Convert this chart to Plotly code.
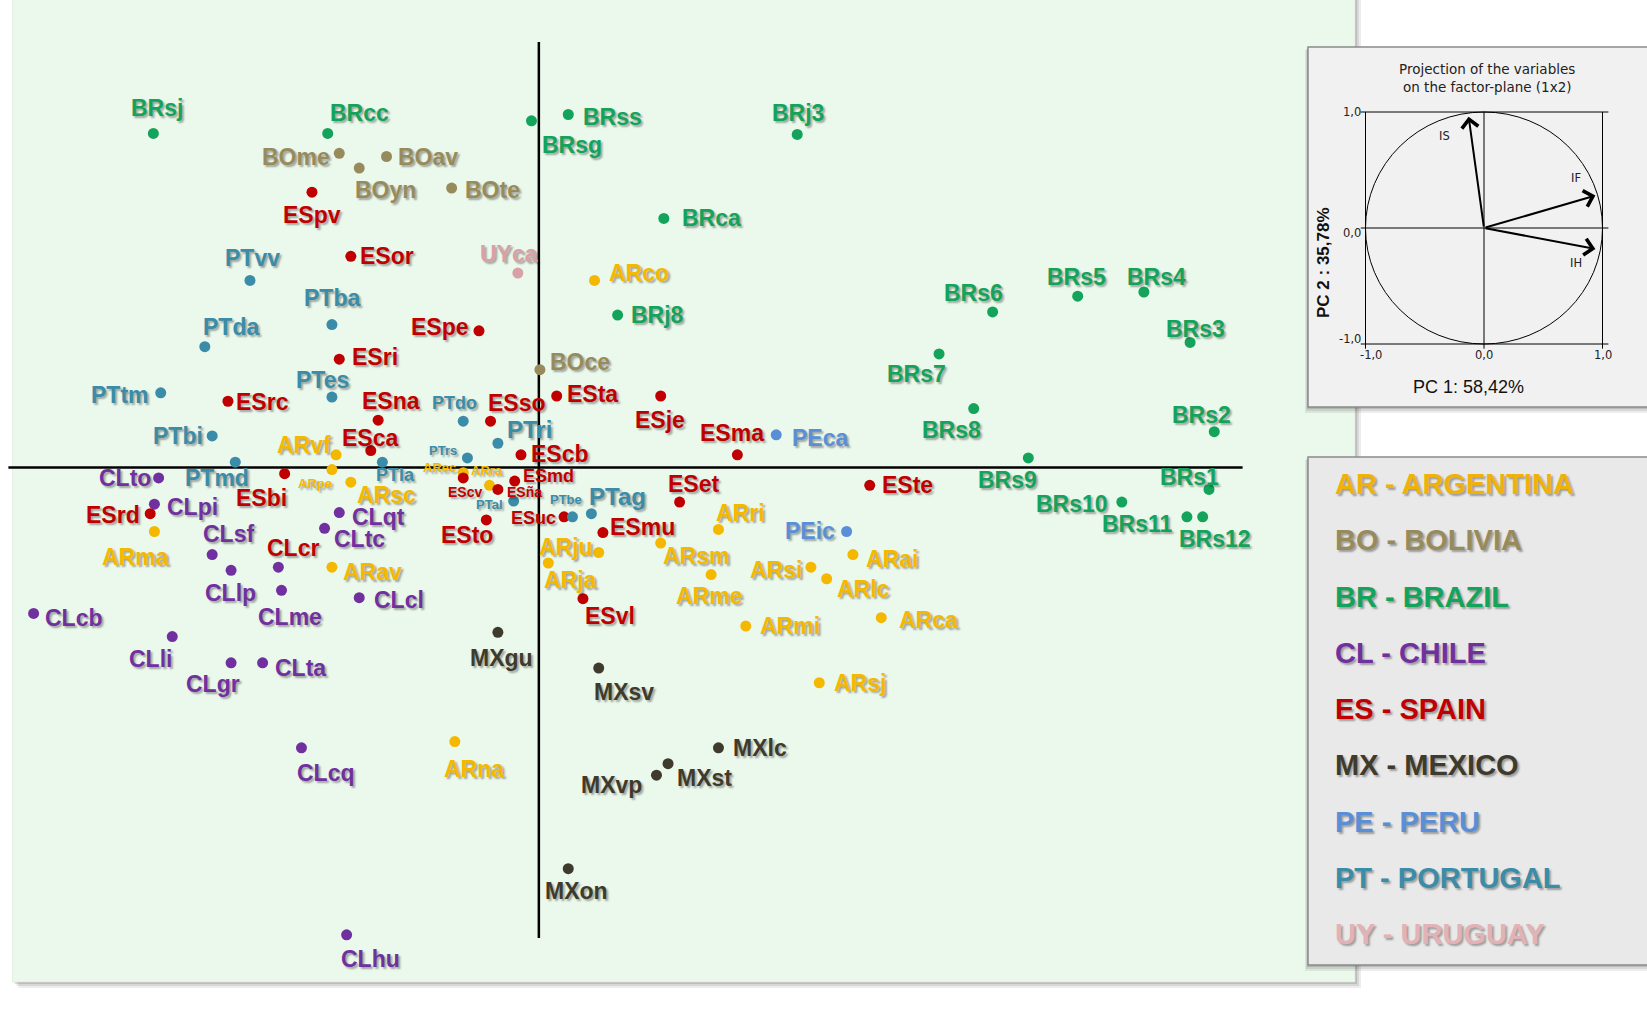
import plotly.graph_objects as go

# ---------------- data: PCA scores ----------------
AR_names = ["ARco", "ARvf", "ARpe", "ARsc", "ARec", "ARra", "ARma", "ARav", "ARju", "ARja",
            "ARsm", "ARri", "ARme", "ARsi", "ARlc", "ARai", "ARmi", "ARca", "ARsj", "ARna"]
AR_pc1 = [0.53, -1.93, -1.97, -1.79, -0.72, -0.47, -3.66, -1.97, 0.57, 0.09,
          1.16, 1.71, 1.64, 2.59, 2.74, 2.99, 1.97, 3.26, 2.67, -0.80]
AR_pc2 = [1.78, 0.12, -0.02, -0.14, -0.05, -0.17, -0.61, -0.95, -0.81, -0.91,
          -0.72, -0.59, -1.02, -0.95, -1.06, -0.83, -1.51, -1.43, -2.05, -2.61]

BO_names = ["BOme", "BOyn", "BOav", "BOte", "BOce"]
BO_pc1 = [-1.90, -1.71, -1.45, -0.83, 0.01]
BO_pc2 = [2.99, 2.85, 2.96, 2.66, 0.93]

BR_names = ["BRsj", "BRcc", "BRsg", "BRss", "BRj3", "BRca", "BRj8", "BRs6", "BRs5", "BRs4",
            "BRs3", "BRs7", "BRs8", "BRs2", "BRs9", "BRs1", "BRs10", "BRs11", "BRs12"]
BR_pc1 = [-3.67, -2.01, -0.07, 0.28, 2.46, 1.19, 0.75, 4.32, 5.13, 5.76,
          6.20, 3.81, 4.14, 6.43, 4.66, 6.38, 5.55, 6.17, 6.32]
BR_pc2 = [3.18, 3.18, 3.30, 3.36, 3.17, 2.37, 1.45, 1.48, 1.63, 1.67,
          1.19, 1.08, 0.56, 0.34, 0.09, -0.21, -0.33, -0.47, -0.47]

CL_names = ["CLto", "CLpi", "CLsf", "CLlp", "CLcr", "CLme", "CLqt", "CLtc", "CLcl", "CLcb",
            "CLli", "CLgr", "CLta", "CLcq", "CLhu"]
CL_pc1 = [-3.62, -3.66, -3.11, -2.93, -2.48, -2.45, -1.90, -2.04, -1.71, -4.81,
          -3.49, -2.93, -2.63, -2.26, -1.83]
CL_pc2 = [-0.10, -0.35, -0.83, -0.98, -0.95, -1.17, -0.43, -0.58, -1.24, -1.39,
          -1.61, -1.86, -1.86, -2.67, -4.45]

ES_names = ["ESpv", "ESor", "ESpe", "ESri", "ESrc", "ESna", "ESso", "ESta", "ESje", "ESca",
            "EScb", "ESma", "ESmd", "EScv", "ESña", "ESbi", "ESrd", "ESto", "ESuc", "ESmu",
            "ESet", "ESte", "ESvl"]
ES_pc1 = [-2.16, -1.79, -0.57, -1.90, -2.96, -1.53, -0.46, 0.17, 1.16, -1.60,
          -0.17, 1.89, -0.23, -0.72, -0.39, -2.42, -3.70, -0.50, 0.24, 0.61,
          1.34, 3.15, 0.42]
ES_pc2 = [2.62, 2.01, 1.30, 1.03, 0.63, 0.45, 0.44, 0.68, 0.68, 0.16,
          0.12, 0.12, -0.13, -0.10, -0.21, -0.06, -0.44, -0.50, -0.47, -0.62,
          -0.33, -0.17, -1.25]

MX_names = ["MXgu", "MXsv", "MXlc", "MXst", "MXvp", "MXon"]
MX_pc1 = [-0.39, 0.57, 1.71, 1.23, 1.12, 0.28]
MX_pc2 = [-1.57, -1.91, -2.67, -2.82, -2.93, -3.82]

PE_names = ["PEca", "PEic"]
PE_pc1 = [2.26, 2.93]
PE_pc2 = [0.31, -0.61]

PT_names = ["PTvv", "PTba", "PTda", "PTes", "PTtm", "PTbi", "PTmd", "PTla", "PTdo", "PTri",
            "PTrs", "PTal", "PTbe", "PTag"]
PT_pc1 = [-2.75, -1.97, -3.18, -1.97, -3.60, -3.11, -2.89, -1.49, -0.72, -0.39,
          -0.68, -0.24, 0.32, 0.50]
PT_pc2 = [1.78, 1.36, 1.15, 0.67, 0.71, 0.30, 0.05, 0.05, 0.44, 0.23,
          0.09, -0.32, -0.47, -0.44]

UY_names = ["UYca"]
UY_pc1 = [-0.20]
UY_pc2 = [1.85]

legend_labels = ["AR - ARGENTINA", "BO - BOLIVIA", "BR - BRAZIL", "CL - CHILE", "ES - SPAIN",
                 "MX - MEXICO", "PE - PERU", "PT - PORTUGAL", "UY - URUGUAY"]

# variable loadings (inset)
VAR_names = ["IS", "IF", "IH"]
VAR_pc1 = [-0.13, 0.94, 0.94]
VAR_pc2 = [0.96, 0.28, -0.18]
inset_ticks = [-1, 0, 1]
inset_ticktext = ["-1,0", "0,0", "1,0"]

# ---------------- styles ----------------
COLORS = {"AR": "#F5B800", "BO": "#978B5C", "BR": "#14A35A", "CL": "#7030A0", "ES": "#C00000",
          "MX": "#3E3B2C", "PE": "#5A8FD8", "PT": "#3A8CA8", "UY": "#D9A0A6"}
LEGEND_COLORS = ["#EFB20A", "#978B5C", "#14A35A", "#7030A0", "#C00000",
                 "#3E3B2C", "#5A8FD8", "#3A8CA8", "#E2B2B6"]

groups = [("AR", AR_names, AR_pc1, AR_pc2), ("BO", BO_names, BO_pc1, BO_pc2),
          ("BR", BR_names, BR_pc1, BR_pc2), ("CL", CL_names, CL_pc1, CL_pc2),
          ("ES", ES_names, ES_pc1, ES_pc2), ("MX", MX_names, MX_pc1, MX_pc2),
          ("PE", PE_names, PE_pc1, PE_pc2), ("PT", PT_names, PT_pc1, PT_pc2),
          ("UY", UY_names, UY_pc1, UY_pc2)]

# label placement: (anchor, dx, dy) in reference-view pixels
LABEL_POS = {
    "ARco": ("l", 12, -7), "ARvf": ("c", -31, -9), "ARpe": ("c", -16, 13), "ARsc": ("c", 34, 12),
    "ARec": ("c", -23, -5), "ARra": ("c", -2, -14), "ARma": ("c", -18, 24), "ARav": ("l", 9, 5),
    "ARju": ("c", -31, -5), "ARja": ("c", 21, 16), "ARsm": ("c", 34, 12), "ARri": ("c", 21, -16),
    "ARme": ("c", -2, 20), "ARsi": ("r", -7, 3), "ARlc": ("c", 35, 10), "ARai": ("l", 11, 4),
    "ARmi": ("l", 12, 0), "ARca": ("l", 15, 2), "ARsj": ("l", 12, 0), "ARna": ("c", 18, 26),
    "BOme": ("r", -7, 3), "BOyn": ("c", 25, 21), "BOav": ("l", 9, 0), "BOte": ("l", 11, 2),
    "BOce": ("l", 8, -7),
    "BRsj": ("c", 3, -24), "BRcc": ("c", 30, -19), "BRsg": ("c", 39, 23), "BRss": ("l", 12, 2),
    "BRj3": ("c", 1, -20), "BRca": ("l", 15, 0), "BRj8": ("l", 11, 0), "BRs6": ("c", -18, -18),
    "BRs5": ("c", -1, -18), "BRs4": ("c", 12, -14), "BRs3": ("c", 5, -13), "BRs7": ("c", -21, 19),
    "BRs8": ("c", -21, 20), "BRs2": ("c", -12, -16), "BRs9": ("c", -20, 21), "BRs1": ("c", -19, -12),
    "BRs10": ("r", -11, 2), "BRs11": ("r", -11, 7), "BRs12": ("c", 12, 21),
    "CLto": ("r", -5, 0), "CLpi": ("l", 10, 3), "CLsf": ("c", 16, -20), "CLlp": ("c", -1, 22),
    "CLcr": ("c", 14, -18), "CLme": ("c", 8, 25), "CLqt": ("l", 10, 4), "CLtc": ("l", 7, 10),
    "CLcl": ("l", 12, 2), "CLcb": ("l", 9, 4), "CLli": ("c", -21, 21), "CLgr": ("c", -17, 20),
    "CLta": ("l", 10, 5), "CLcq": ("c", 23, 24), "CLhu": ("c", 23, 23),
    "ESpv": ("c", 0, 22), "ESor": ("l", 7, 0), "ESpe": ("r", -8, -4), "ESri": ("l", 10, -2),
    "ESrc": ("l", 6, 1), "ESna": ("c", 12, -18), "ESso": ("c", 25, -17), "ESta": ("l", 8, -2),
    "ESje": ("c", -1, 23), "ESca": ("c", -1, -12), "EScb": ("l", 8, -1), "ESma": ("c", -5, -21),
    "ESmd": ("c", 32, -5), "EScv": ("c", 2, 13), "ESña": ("c", 25, 2), "ESbi": ("c", -22, 23),
    "ESrd": ("r", -8, 1), "ESto": ("c", -18, 14), "ESuc": ("r", -6, 1), "ESmu": ("l", 5, -5),
    "ESet": ("c", 13, -17), "ESte": ("l", 10, 0), "ESvl": ("c", 26, 16),
    "MXgu": ("c", 3, 24), "MXsv": ("c", 24, 23), "MXlc": ("l", 12, 0), "MXst": ("l", 7, 14),
    "MXvp": ("r", -12, 9), "MXon": ("c", 8, 21),
    "PEca": ("l", 13, 3), "PEic": ("r", -9, 0),
    "PTvv": ("c", 2, -21), "PTba": ("c", 0, -25), "PTda": ("c", 25, -19), "PTes": ("c", -9, -16),
    "PTtm": ("r", -9, 2), "PTbi": ("r", -7, 0), "PTmd": ("c", -17, 15), "PTla": ("c", 13, 12),
    "PTdo": ("c", -8, -17), "PTri": ("c", 30, -13), "PTrs": ("c", -23, -7), "PTal": ("c", -23, 3),
    "PTbe": ("c", -6, -16), "PTag": ("c", 25, -16),
    "UYca": ("c", -8, -18),
}
LABEL_SIZE = {"ARpe": 13, "ARec": 13, "ARra": 13, "EScv": 14, "ESña": 14, "PTrs": 13,
              "PTal": 13, "PTbe": 13, "ESmd": 18, "ESuc": 18, "PTdo": 18, "PTla": 18,
              "PTri": 24, "PTag": 24}
LABEL_COLOR = {"CLcr": "#C00000"}

FONT = "Liberation Sans, Arial, sans-serif"
SHADOW = "2px 2px 2px rgba(0,0,0,0.33)"

# ---------------- geometry ----------------
W, H = 1647, 1014
OFF = 0
K = 1647 / 1568
U = 100 * K
OX, OY = 513 * K, 445 * K


def pxX(X):
    return (X - OFF) / W


def pyY(Y):
    return 1 - (Y - OFF) / H


xr = [(OFF - OX) / U, (OFF + W - OX) / U]
yr = [(OY - OFF - H) / U, (OY - OFF) / U]

fig = go.Figure()

# country points and labels
anch = {"c": "center", "l": "left", "r": "right"}
for code, names, pc1, pc2 in groups:
    fig.add_trace(go.Scatter(x=pc1, y=pc2, mode="markers", text=names, hoverinfo="text",
                             marker=dict(size=11, color=COLORS[code]), showlegend=False,
                             xaxis="x", yaxis="y"))
    for n, x, y in zip(names, pc1, pc2):
        a, dx, dy = LABEL_POS[n]
        fig.add_annotation(x=x, y=y, xref="x", yref="y", text=n, showarrow=False,
                           xanchor=anch[a], yanchor="middle", xshift=dx * K, yshift=-dy * K,
                           font=dict(family=FONT, size=LABEL_SIZE.get(n, 23),
                                     color=LABEL_COLOR.get(n, COLORS[code]),
                                     weight="bold", shadow=SHADOW))

# invisible trace to anchor inset axes
fig.add_trace(go.Scatter(x=VAR_pc1, y=VAR_pc2, mode="markers", marker=dict(size=1, opacity=0),
                         xaxis="x2", yaxis="y2", showlegend=False, hoverinfo="skip"))

shapes = []
# main panel with shadow
for d, a in [(6, 0.07), (4, 0.09), (2, 0.12)]:
    shapes.append(dict(type="rect", xref="paper", yref="paper", x0=pxX(12.6 + d), x1=pxX(1355 + d),
                       y0=pyY(982 + d), y1=pyY(-20), fillcolor=f"rgba(0,0,0,{a})",
                       line=dict(width=0), layer="below"))
shapes.append(dict(type="rect", xref="paper", yref="paper", x0=pxX(12.6), x1=pxX(1355),
                   y0=pyY(982), y1=pyY(-20), fillcolor="#EBF8EC",
                   line=dict(width=0.6, color="#D8E6D8"), layer="below"))
# main crosshair axes
shapes.append(dict(type="line", xref="x", yref="y", x0=(8 - 513) / 100, x1=(1183 - 513) / 100,
                   y0=0, y1=0, line=dict(color="black", width=2.5), layer="below"))
shapes.append(dict(type="line", xref="x", yref="y", x0=0, x1=0, y0=(445 - 40) / 100,
                   y1=(445 - 893) / 100, line=dict(color="black", width=2.5), layer="below"))

# inset and legend boxes
for (ytop, ybot, fill) in [(47, 407, "#F1F1F1"), (457, 965, "#E9E9E9")]:
    for d, a in [(6, 0.07), (4, 0.09), (2, 0.12)]:
        shapes.append(dict(type="rect", xref="paper", yref="paper", x0=pxX(1308 - d / 2),
                           x1=pxX(1680), y0=pyY(ybot + d), y1=pyY(ytop + d / 2),
                           fillcolor=f"rgba(0,0,0,{a})", line=dict(width=0), layer="below"))
    shapes.append(dict(type="rect", xref="paper", yref="paper", x0=pxX(1308), x1=pxX(1680),
                       y0=pyY(ybot), y1=pyY(ytop), fillcolor=fill,
                       line=dict(width=1.5, color="#8A8A8A"), layer="below"))

# inset frame, crosshair and unit circle
ln = dict(color="black", width=1)
for (x0, y0, x1, y1) in [(-1.04, 1, 1.05, 1), (-1.04, -1, 1.05, -1), (-1, -1.04, -1, 1),
                         (1, -1.04, 1, 1), (-1.04, 0, 1.05, 0), (0, -1.04, 0, 1)]:
    shapes.append(dict(type="line", xref="x2", yref="y2", x0=x0, y0=y0, x1=x1, y1=y1, line=ln))
shapes.append(dict(type="circle", xref="x2", yref="y2", x0=-1, x1=1, y0=-1, y1=1, line=ln))

# variable arrows
for n, x, y in zip(VAR_names, VAR_pc1, VAR_pc2):
    fig.add_annotation(x=x, y=y, ax=0, ay=0, xref="x2", yref="y2", axref="x2", ayref="y2",
                       text="", showarrow=True, arrowhead=4, arrowsize=1.6, arrowwidth=2,
                       arrowcolor="black", standoff=0)
var_lab = {"IS": (-0.33, 0.79), "IF": (0.78, 0.43), "IH": (0.78, -0.30)}
SMALL = dict(family="DejaVu Sans, Verdana, sans-serif", size=11.5, color="#222222")
for n in VAR_names:
    lx, ly = var_lab[n]
    fig.add_annotation(x=lx, y=ly, xref="x2", yref="y2", text=n, showarrow=False, font=SMALL,
                       xanchor="center", yanchor="middle")

# inset tick labels
for v, t in zip(inset_ticks, inset_ticktext):
    fig.add_annotation(x=v, y=-1, xref="x2", yref="y2", text=t, showarrow=False,
                       xanchor="center", yanchor="top", yshift=-2,
                       xshift=(5 if v == -1 else 0), font=SMALL)
    fig.add_annotation(x=-1, y=v, xref="x2", yref="y2", text=t, showarrow=False,
                       xanchor="right", yanchor="middle", xshift=-3,
                       yshift=(-5 if v == 0 else (5 if v == -1 else 0)), font=SMALL)

TFONT = dict(family="DejaVu Sans, Verdana, sans-serif", size=13.5, color="#222222")
fig.add_annotation(x=pxX(1487), y=pyY(69), xref="paper", yref="paper",
                   text="Projection of the variables", showarrow=False,
                   xanchor="center", yanchor="middle", font=TFONT)
fig.add_annotation(x=pxX(1487), y=pyY(87), xref="paper", yref="paper",
                   text="on the factor-plane (1x2)", showarrow=False,
                   xanchor="center", yanchor="middle", font=TFONT)
fig.add_annotation(x=pxX(1468), y=pyY(387), xref="paper", yref="paper", text="PC 1: 58,42%",
                   showarrow=False, xanchor="center", yanchor="middle",
                   font=dict(family=FONT, size=18, color="#111111"))
fig.add_annotation(x=pxX(1323), y=pyY(263), xref="paper", yref="paper", text="PC 2 : 35,78%",
                   showarrow=False, textangle=-90, xanchor="center", yanchor="middle",
                   font=dict(family=FONT, size=17, color="#111111", weight="bold"))

# country legend
for i, (t, c) in enumerate(zip(legend_labels, LEGEND_COLORS)):
    fig.add_annotation(x=pxX(1333), y=pyY(484 + i * 56.25), xref="paper", yref="paper", text=t,
                       showarrow=False, xanchor="left", yanchor="middle",
                       font=dict(family=FONT, size=29, color=c, weight="bold", shadow=SHADOW))

ins_x0, ins_x1 = 1484 - 1.12 * 118.5, 1484 + 1.12 * 118.5
ins_ybot, ins_ytop = 228 + 1.12 * 116, 228 - 1.12 * 116

fig.update_layout(
    width=W, height=H, margin=dict(l=0, r=0, t=0, b=0, pad=0),
    paper_bgcolor="white", plot_bgcolor="rgba(0,0,0,0)", showlegend=False,
    hovermode="closest", shapes=shapes,
    xaxis=dict(domain=[0, 1], range=xr, visible=False, fixedrange=True),
    yaxis=dict(domain=[0, 1], range=yr, visible=False, fixedrange=True),
    xaxis2=dict(domain=[pxX(ins_x0), pxX(ins_x1)], range=[-1.12, 1.12], visible=False,
                anchor="y2", fixedrange=True),
    yaxis2=dict(domain=[pyY(ins_ybot), pyY(ins_ytop)], range=[-1.12, 1.12], visible=False,
                anchor="x2", fixedrange=True),
)

fig.write_html("out.html", config={"displayModeBar": False},
               post_script="document.body.style.margin='0px';document.body.style.overflow='hidden';")
